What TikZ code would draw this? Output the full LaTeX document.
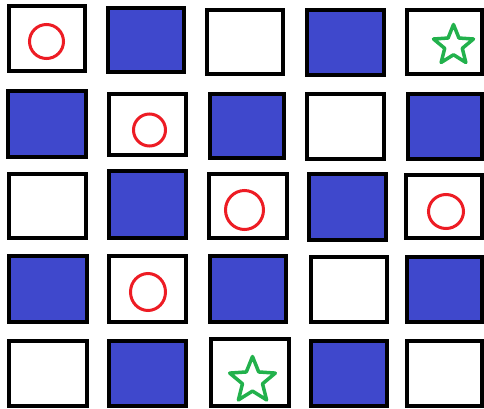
\documentclass[tikz,border=0pt]{standalone}
\definecolor{cellblue}{HTML}{3F48CC}
\definecolor{mkred}{HTML}{ED1C24}
\definecolor{mkgreen}{HTML}{22B14C}
\tikzset{
  cellbox/.style={draw=black, line width=4, rectangle, inner sep=0pt},
  wcell/.style={cellbox, fill=white},
  bcell/.style={cellbox, fill=cellblue},
  ring/.style={draw=mkred, line width=3},
  starsty/.style={draw=mkgreen, line width=3.5, line join=round}
}
\newcommand\cellat[6]{%
  \node[#6, minimum width={#4-#2-4}, minimum height={#5-#3-4}] (#1) at ({(#2+#4)/2},{(#3+#5)/2}) {};}
\newcommand\starat[3]{%
  \draw[starsty, shift={(#1,#2)}] (-90:#3) \foreach \a in {0,72,...,288}{ -- ({-54+\a}:{0.44*#3}) -- ({-18+\a}:#3)} -- cycle;}
\begin{document}
\begin{tikzpicture}[x=1pt,y=-1pt]
\fill[white] (0,0) rectangle (484,409);
\useasboundingbox (0,0) rectangle (484,409);
% row 1
\cellat{r1c1}{7}{4}{87}{73}{wcell}
\cellat{r1c2}{106}{6}{186}{74}{bcell}
\cellat{r1c3}{205}{8}{285}{76}{wcell}
\cellat{r1c4}{305}{8}{386}{77}{bcell}
\cellat{r1c5}{405}{8}{484}{76}{wcell}
% row 2
\cellat{r2c1}{6}{89}{88}{159}{bcell}
\cellat{r2c2}{107}{92}{188}{157}{wcell}
\cellat{r2c3}{208}{92}{286}{160}{bcell}
\cellat{r2c4}{305}{92}{386}{161}{wcell}
\cellat{r2c5}{406}{92}{484}{161}{bcell}
% row 3
\cellat{r3c1}{7}{172}{88}{240}{wcell}
\cellat{r3c2}{107}{169}{188}{240}{bcell}
\cellat{r3c3}{207}{172}{289}{240}{wcell}
\cellat{r3c4}{307}{172}{388}{242}{bcell}
\cellat{r3c5}{404}{173}{484}{240}{wcell}
% row 4
\cellat{r4c1}{7}{254}{89}{324}{bcell}
\cellat{r4c2}{107}{254}{188}{324}{wcell}
\cellat{r4c3}{208}{254}{288}{324}{bcell}
\cellat{r4c4}{309}{255}{389}{324}{wcell}
\cellat{r4c5}{405}{255}{484}{324}{bcell}
% row 5
\cellat{r5c1}{7}{339}{89}{408}{wcell}
\cellat{r5c2}{107}{339}{188}{408}{bcell}
\cellat{r5c3}{209}{337}{291}{408}{wcell}
\cellat{r5c4}{309}{339}{389}{408}{bcell}
\cellat{r5c5}{405}{339}{484}{408}{wcell}
% circles
\draw[ring] (46.5,41.5) ellipse (17 and 17);
\draw[ring] (149.5,130) ellipse (16 and 16);
\draw[ring] (244.5,210) ellipse (19 and 19.5);
\draw[ring] (446,211.5) ellipse (17.5 and 17);
\draw[ring] (148,292) ellipse (17.5 and 18.5);
% stars
\starat{453.5}{45.5}{21}
\starat{252.5}{380.5}{24}
\end{tikzpicture}
\end{document}
